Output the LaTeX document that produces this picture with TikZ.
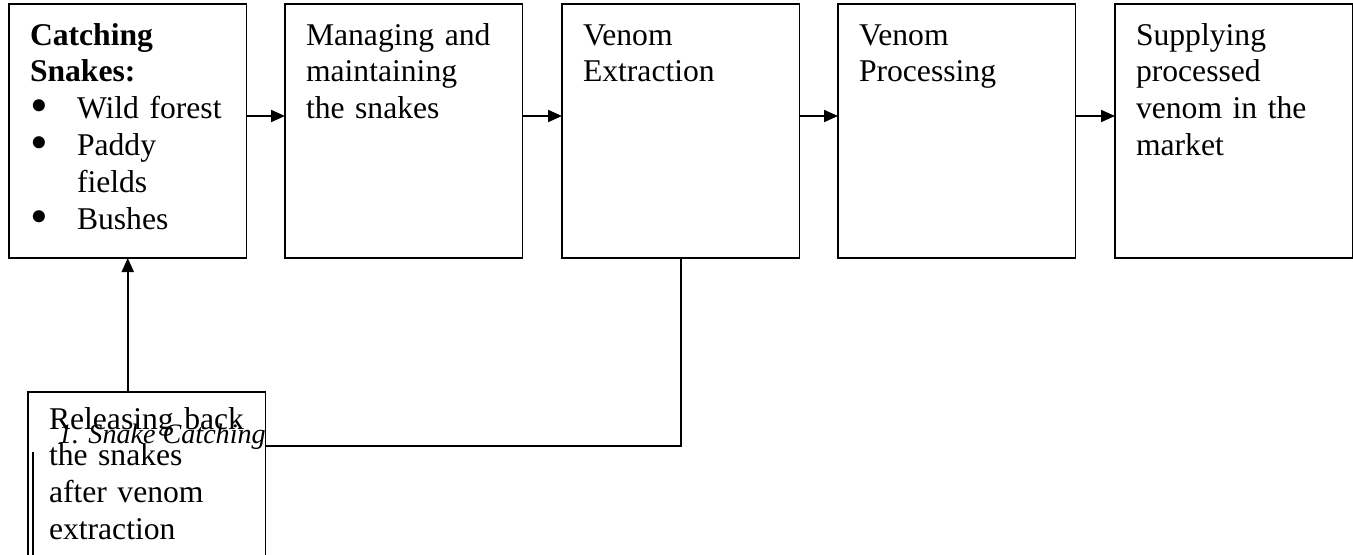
\documentclass[tikz,border=0pt]{standalone}
\usepackage{fontspec}
\setmainfont{Liberation Serif}
\usetikzlibrary{arrows.meta}
\newcommand{\bitem}[1]{\par\noindent\hangindent=0.94cm\hangafter=1\makebox[0.94cm][l]{\raisebox{-2.3pt}{\scalebox{1.6}{\textbullet}}}#1}

\begin{document}
\begin{tikzpicture}[line width=1.1pt,
  every node/.style={draw, anchor=north west, outer sep=0pt, inner xsep=0.42cm, inner ysep=0pt,
    text width=3.91cm, align=left, text height=0.82cm, text depth=4.26cm,
    font=\fontsize{18}{21}\selectfont},
  flow/.style={-{Triangle[length=0.28cm,width=0.24cm]}}]
  \clip (0,0) rectangle (27.06,-11.08);
  \node (catch) at (0.18,-0.08) {{\bfseries Catching\\Snakes:}\bitem{Wild forest}\bitem{Paddy\newline fields}\bitem{Bushes}};
  \node (manage) at (5.70,-0.08) {Managing and\\maintaining\\the snakes};
  \node (extract) at (11.24,-0.08) {Venom\\Extraction};
  \node (process) at (16.76,-0.08) {Venom\\Processing};
  \node (supply) at (22.30,-0.08) {Supplying\\processed\\venom in the\\market};
  \node[text height=0.74cm, text depth=3cm] (release) at (0.56,-7.84) {Releasing back\\the snakes\\after venom\\extraction};
  \node[draw=none, anchor=base west, inner sep=0pt, text width=, text height=, text depth=,
    font=\fontsize{16}{18}\selectfont\itshape] (caption) at (1.16,-8.86) {1. Snake Catching};
  \draw[flow] ([yshift=0.3cm]catch.east) -- ([yshift=0.3cm]manage.west);
  \draw[flow] ([yshift=0.3cm]manage.east) -- ([yshift=0.3cm]extract.west);
  \draw[flow] ([yshift=0.3cm]extract.east) -- ([yshift=0.3cm]process.west);
  \draw[flow] ([yshift=0.3cm]process.east) -- ([yshift=0.3cm]supply.west);
  \draw[flow] (catch.south |- release.north) -- (catch.south);
  \draw (extract.south) |- ([yshift=-1.08cm]release.north east);
  \draw[line width=1.3pt] (0.66,-9.04) -- (0.66,-11.2);
\end{tikzpicture}
\end{document}
